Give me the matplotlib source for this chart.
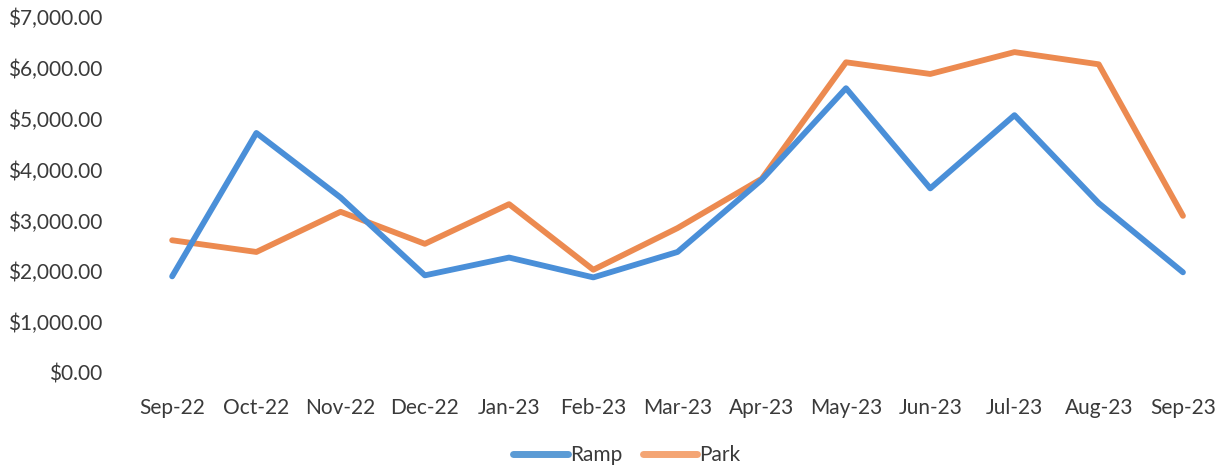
import matplotlib
matplotlib.use("Agg")
import matplotlib.pyplot as plt
from matplotlib.ticker import FuncFormatter
from matplotlib.lines import Line2D

months = ["Sep-22", "Oct-22", "Nov-22", "Dec-22", "Jan-23", "Feb-23", "Mar-23",
          "Apr-23", "May-23", "Jun-23", "Jul-23", "Aug-23", "Sep-23"]
ramp = [1900, 4720, 3450, 1920, 2270, 1880, 2380, 3800, 5600, 3630, 5070, 3340, 1980]
park = [2610, 2380, 3170, 2540, 3320, 2030, 2850, 3820, 6110, 5880, 6310, 6070, 3090]
y_ticks = [0, 1000, 2000, 3000, 4000, 5000, 6000, 7000]

plt.rcParams['font.family'] = ['Lato', 'DejaVu Sans']

fig = plt.figure(figsize=(12.29, 4.70), dpi=100)
ax = fig.add_axes([0.1058, 0.2064, 0.891, 0.7574])

x = list(range(len(months)))
ax.plot(x, ramp, color="#4a8fd8", lw=4.2, solid_joinstyle="round", solid_capstyle="round", zorder=3)
ax.plot(x, park, color="#ec8a50", lw=4.2, solid_joinstyle="round", solid_capstyle="round", zorder=2)

ax.set_xlim(-0.5, len(months) - 0.5)
ax.set_ylim(0, 7000)
ax.set_yticks(y_ticks)
ax.yaxis.set_major_formatter(FuncFormatter(lambda v, p: f"${v:,.2f}"))
ax.set_xticks(x)
ax.set_xticklabels(months)
ax.tick_params(axis="both", length=0, labelsize=15, colors="#3a3a3a")
ax.tick_params(axis="y", pad=20)
ax.tick_params(axis="x", pad=18)
for s in ax.spines.values():
    s.set_visible(False)

handles = [Line2D([], [], color="#5b9bd5", lw=5, solid_capstyle="round"),
           Line2D([], [], color="#f4a574", lw=5, solid_capstyle="round")]
fig.legend(handles, ["Ramp", "Park"], loc="center", bbox_to_anchor=(0.510, 0.032),
           ncol=2, frameon=False, fontsize=15, handlelength=2.6, handletextpad=0.1,
           columnspacing=1.0, labelcolor="#3a3a3a")

fig.savefig("out.png", dpi=100)
